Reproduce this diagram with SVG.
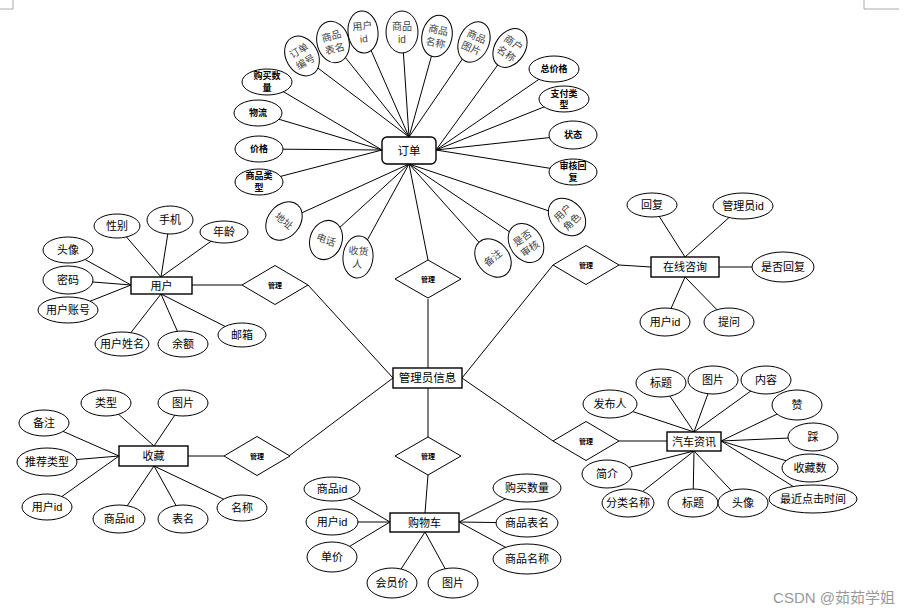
<svg xmlns="http://www.w3.org/2000/svg" width="907" height="612" viewBox="0 0 907 612">
<style>
text{font-family:"Liberation Sans","Noto Sans CJK SC",sans-serif;text-anchor:middle;dominant-baseline:central;fill:#000}
.e{fill:#fff;stroke:#000;stroke-width:1}
.ent{fill:#fff;stroke:#000;stroke-width:1.4}
.d{fill:#fff;stroke:#000;stroke-width:1}
.c line{stroke:#000;stroke-width:1}
.t{font-size:11px}
.sm{font-size:9px;font-weight:bold}
.rt{font-size:10px;fill:#444}
.dt{font-size:7px;font-weight:bold}
.et{font-size:11.5px}
.pg{stroke:#aaa;stroke-width:1;fill:none}
</style>
<rect width="907" height="612" fill="#fff"/>
<path class="pg" d="M13,0V9H0M864,0V9H899"/>
<g id="connectors" class="c">
<!-- 订单 -->
<line x1="302" y1="56" x2="409" y2="137"/>
<line x1="333" y1="42" x2="409" y2="137"/>
<line x1="363" y1="32" x2="409" y2="137"/>
<line x1="402" y1="32" x2="409" y2="137"/>
<line x1="437" y1="36" x2="409" y2="137"/>
<line x1="474" y1="42" x2="409" y2="137"/>
<line x1="510" y1="48" x2="436" y2="150"/>
<line x1="554" y1="69" x2="436" y2="150"/>
<line x1="564" y1="99" x2="436" y2="150"/>
<line x1="573" y1="135" x2="436" y2="150"/>
<line x1="573" y1="172" x2="436" y2="150"/>
<line x1="267" y1="82" x2="382" y2="150"/>
<line x1="258" y1="113" x2="382" y2="150"/>
<line x1="259" y1="149" x2="382" y2="150"/>
<line x1="259" y1="182" x2="382" y2="150"/>
<line x1="284" y1="221" x2="409" y2="164"/>
<line x1="326" y1="240" x2="409" y2="164"/>
<line x1="358" y1="257" x2="409" y2="164"/>
<line x1="493" y1="258" x2="409" y2="164"/>
<line x1="526" y1="243" x2="409" y2="164"/>
<line x1="567" y1="217" x2="409" y2="164"/>
<line x1="409" y1="164" x2="428" y2="260"/>
<line x1="428" y1="299" x2="428" y2="368"/>
<!-- 用户 -->
<line x1="117" y1="226" x2="161" y2="277"/>
<line x1="170" y1="220" x2="161" y2="277"/>
<line x1="224" y1="232" x2="161" y2="277"/>
<line x1="68" y1="250" x2="131" y2="285"/>
<line x1="68" y1="280" x2="131" y2="285"/>
<line x1="68" y1="310" x2="131" y2="285"/>
<line x1="122" y1="344" x2="161" y2="294"/>
<line x1="183" y1="344" x2="161" y2="294"/>
<line x1="242" y1="335" x2="161" y2="294"/>
<line x1="192" y1="285" x2="242" y2="285"/>
<line x1="308" y1="285" x2="393" y2="378"/>
<!-- 在线咨询 -->
<line x1="462" y1="378" x2="553" y2="265"/>
<line x1="619" y1="265" x2="651" y2="267"/>
<line x1="652" y1="205" x2="685" y2="257"/>
<line x1="743" y1="205" x2="685" y2="257"/>
<line x1="783" y1="267" x2="719" y2="267"/>
<line x1="665" y1="322" x2="685" y2="277"/>
<line x1="729" y1="322" x2="685" y2="277"/>
<!-- 收藏 -->
<line x1="393" y1="378" x2="289" y2="456"/>
<line x1="224" y1="456" x2="188" y2="456"/>
<line x1="106" y1="403" x2="154" y2="446"/>
<line x1="183" y1="403" x2="154" y2="446"/>
<line x1="44" y1="423" x2="119" y2="456"/>
<line x1="47" y1="462" x2="119" y2="456"/>
<line x1="47" y1="507" x2="119" y2="456"/>
<line x1="119" y1="518" x2="154" y2="466"/>
<line x1="183" y1="518" x2="154" y2="466"/>
<line x1="242" y1="508" x2="154" y2="466"/>
<!-- 购物车 -->
<line x1="428" y1="388" x2="428" y2="437"/>
<line x1="428" y1="475" x2="425" y2="513"/>
<line x1="332" y1="488" x2="390" y2="522"/>
<line x1="332" y1="522" x2="390" y2="522"/>
<line x1="332" y1="557" x2="390" y2="522"/>
<line x1="392" y1="583" x2="425" y2="532"/>
<line x1="453" y1="583" x2="425" y2="532"/>
<line x1="527" y1="488" x2="459" y2="522"/>
<line x1="527" y1="523" x2="459" y2="522"/>
<line x1="527" y1="559" x2="459" y2="522"/>
<!-- 汽车资讯 -->
<line x1="462" y1="378" x2="553" y2="441"/>
<line x1="619" y1="441" x2="667" y2="441"/>
<line x1="610" y1="404" x2="694" y2="432"/>
<line x1="661" y1="383" x2="694" y2="432"/>
<line x1="713" y1="380" x2="694" y2="432"/>
<line x1="766" y1="380" x2="694" y2="432"/>
<line x1="796" y1="405" x2="721" y2="441"/>
<line x1="813" y1="437" x2="721" y2="441"/>
<line x1="810" y1="468" x2="721" y2="441"/>
<line x1="813" y1="499" x2="721" y2="441"/>
<line x1="607" y1="473" x2="694" y2="451"/>
<line x1="628" y1="503" x2="694" y2="451"/>
<line x1="693" y1="503" x2="694" y2="451"/>
<line x1="743" y1="503" x2="694" y2="451"/>
</g>

<!-- 订单 entity -->
<g id="order"><rect class="ent" x="382" y="137" width="54" height="27" rx="5"/><text class="et" x="409" y="151">订单</text></g>
<g id="order-no" transform="translate(302,56) rotate(-30)"><ellipse class="e" rx="16" ry="21"/><text class="rt" y="-6">订单</text><text class="rt" y="7">编号</text></g>
<g id="order-tablename" transform="translate(333,42) rotate(-15)"><ellipse class="e" rx="16" ry="21"/><text class="rt" y="-6">商品</text><text class="rt" y="7">表名</text></g>
<g id="order-userid" transform="translate(363,32) rotate(-6)"><ellipse class="e" rx="15" ry="21"/><text class="rt" y="-6">用户</text><text class="rt" y="7">id</text></g>
<g id="order-goodsid" transform="translate(402,32)"><ellipse class="e" rx="16" ry="21"/><text class="rt" y="-6">商品</text><text class="rt" y="7">id</text></g>
<g id="order-goodsname" transform="translate(437,36) rotate(12)"><ellipse class="e" rx="15" ry="21"/><text class="rt" y="-6">商品</text><text class="rt" y="7">名称</text></g>
<g id="order-goodspic" transform="translate(474,42) rotate(24)"><ellipse class="e" rx="15" ry="21"/><text class="rt" y="-6">商品</text><text class="rt" y="7">图片</text></g>
<g id="order-shopname" transform="translate(510,48) rotate(34)"><ellipse class="e" rx="15" ry="21"/><text class="rt" y="-6">商户</text><text class="rt" y="7">名称</text></g>
<g id="order-total"><ellipse class="e" cx="554" cy="69" rx="25" ry="13"/><text class="sm" x="554" y="69">总价格</text></g>
<g id="order-paytype"><ellipse class="e" cx="564" cy="99" rx="25" ry="13"/><text class="sm" x="564" y="94">支付类</text><text class="sm" x="564" y="105">型</text></g>
<g id="order-status"><ellipse class="e" cx="573" cy="135" rx="24" ry="14"/><text class="sm" x="573" y="135">状态</text></g>
<g id="order-reply"><ellipse class="e" cx="573" cy="172" rx="24" ry="13"/><text class="sm" x="573" y="166">审核回</text><text class="sm" x="573" y="178">复</text></g>
<g id="order-qty"><ellipse class="e" cx="267" cy="82" rx="25" ry="13"/><text class="sm" x="267" y="76">购买数</text><text class="sm" x="267" y="88">量</text></g>
<g id="order-logistics"><ellipse class="e" cx="258" cy="113" rx="24" ry="13"/><text class="sm" x="258" y="113">物流</text></g>
<g id="order-price"><ellipse class="e" cx="259" cy="149" rx="24" ry="13"/><text class="sm" x="259" y="149">价格</text></g>
<g id="order-goodstype"><ellipse class="e" cx="259" cy="182" rx="24" ry="13"/><text class="sm" x="259" y="176">商品类</text><text class="sm" x="259" y="188">型</text></g>
<g id="order-address" transform="translate(284,221) rotate(40)"><ellipse class="e" rx="16" ry="21"/><text class="rt">地址</text></g>
<g id="order-phone" transform="translate(326,240) rotate(20)"><ellipse class="e" rx="16" ry="20"/><text class="rt">电话</text></g>
<g id="order-receiver" transform="translate(358,257) rotate(5)"><ellipse class="e" rx="15" ry="21"/><text class="rt" y="-6">收货</text><text class="rt" y="7">人</text></g>
<g id="order-remark" transform="translate(493,258) rotate(-40)"><ellipse class="e" rx="16" ry="21"/><text class="rt">备注</text></g>
<g id="order-audited" transform="translate(526,243) rotate(-35)"><ellipse class="e" rx="16" ry="21"/><text class="rt" y="-6">是否</text><text class="rt" y="7">审核</text></g>
<g id="order-role" transform="translate(567,217) rotate(-45)"><ellipse class="e" rx="16" ry="21"/><text class="rt" y="-6">用户</text><text class="rt" y="7">角色</text></g>

<!-- 管理员信息 -->
<g id="admin"><rect class="ent" x="393" y="368" width="69" height="20"/><text class="et" x="427.5" y="378">管理员信息</text></g>
<g id="rel-order"><polygon class="d" points="395,279 428,260 461,279 428,298"/><text class="dt" x="428" y="279">管理</text></g>
<g id="rel-user"><polygon class="d" points="242,285 275,265.5 308,285 275,304.5"/><text class="dt" x="275" y="285">管理</text></g>
<g id="rel-consult"><polygon class="d" points="553,265 586,245.5 619,265 586,284.5"/><text class="dt" x="586" y="265">管理</text></g>
<g id="rel-fav"><polygon class="d" points="224,456 257,436.5 290,456 257,475.5"/><text class="dt" x="257" y="456">管理</text></g>
<g id="rel-cart"><polygon class="d" points="395,456 428,437 461,456 428,475"/><text class="dt" x="428" y="456">管理</text></g>
<g id="rel-news"><polygon class="d" points="553,441 586,421.5 619,441 586,460.5"/><text class="dt" x="586" y="441">管理</text></g>

<!-- 用户 -->
<g id="user"><rect class="ent" x="131" y="277" width="61" height="17"/><text class="t" x="161.5" y="285.5">用户</text></g>
<g id="user-gender"><ellipse class="e" cx="117" cy="226" rx="23" ry="12"/><text class="t" x="117" y="226">性别</text></g>
<g id="user-phone"><ellipse class="e" cx="170" cy="220" rx="23" ry="14"/><text class="t" x="170" y="220">手机</text></g>
<g id="user-age"><ellipse class="e" cx="224" cy="232" rx="24" ry="11"/><text class="t" x="224" y="232">年龄</text></g>
<g id="user-avatar"><ellipse class="e" cx="68" cy="250" rx="25" ry="13"/><text class="t" x="68" y="250">头像</text></g>
<g id="user-pwd"><ellipse class="e" cx="68" cy="280" rx="25" ry="14"/><text class="t" x="68" y="280">密码</text></g>
<g id="user-account"><ellipse class="e" cx="68" cy="310" rx="30" ry="13"/><text class="t" x="68" y="310">用户账号</text></g>
<g id="user-name"><ellipse class="e" cx="122" cy="344" rx="27" ry="12"/><text class="t" x="122" y="344">用户姓名</text></g>
<g id="user-balance"><ellipse class="e" cx="183" cy="344" rx="25" ry="13"/><text class="t" x="183" y="344">余额</text></g>
<g id="user-email"><ellipse class="e" cx="242" cy="335" rx="24" ry="12"/><text class="t" x="242" y="335">邮箱</text></g>

<!-- 在线咨询 -->
<g id="consult"><rect class="ent" x="651" y="257" width="68" height="20"/><text class="t" x="685" y="267">在线咨询</text></g>
<g id="consult-reply"><ellipse class="e" cx="652" cy="205" rx="25" ry="12"/><text class="t" x="652" y="205">回复</text></g>
<g id="consult-adminid"><ellipse class="e" cx="743" cy="206" rx="30" ry="13"/><text class="t" x="743" y="206">管理员id</text></g>
<g id="consult-replied"><ellipse class="e" cx="783" cy="267" rx="31" ry="15"/><text class="t" x="783" y="267">是否回复</text></g>
<g id="consult-userid"><ellipse class="e" cx="665" cy="322" rx="25" ry="14"/><text class="t" x="665" y="322">用户id</text></g>
<g id="consult-question"><ellipse class="e" cx="729" cy="322" rx="25" ry="14"/><text class="t" x="729" y="322">提问</text></g>

<!-- 收藏 -->
<g id="fav"><rect class="ent" x="119" y="446" width="69" height="20"/><text class="t" x="153.5" y="456">收藏</text></g>
<g id="fav-type"><ellipse class="e" cx="106" cy="403" rx="25" ry="13"/><text class="t" x="106" y="403">类型</text></g>
<g id="fav-pic"><ellipse class="e" cx="183" cy="403" rx="25" ry="13"/><text class="t" x="183" y="403">图片</text></g>
<g id="fav-remark"><ellipse class="e" cx="44" cy="423" rx="25" ry="13"/><text class="t" x="44" y="423">备注</text></g>
<g id="fav-rectype"><ellipse class="e" cx="47" cy="462" rx="30" ry="14"/><text class="t" x="47" y="462">推荐类型</text></g>
<g id="fav-userid"><ellipse class="e" cx="47" cy="507" rx="25" ry="13"/><text class="t" x="47" y="507">用户id</text></g>
<g id="fav-goodsid"><ellipse class="e" cx="119" cy="519" rx="26" ry="14"/><text class="t" x="119" y="519">商品id</text></g>
<g id="fav-table"><ellipse class="e" cx="183" cy="519" rx="25" ry="14"/><text class="t" x="183" y="519">表名</text></g>
<g id="fav-name"><ellipse class="e" cx="242" cy="508" rx="25" ry="13"/><text class="t" x="242" y="508">名称</text></g>

<!-- 购物车 -->
<g id="cart"><rect class="ent" x="390" y="513" width="69" height="19"/><text class="t" x="424.5" y="522.5">购物车</text></g>
<g id="cart-goodsid"><ellipse class="e" cx="332" cy="489" rx="28" ry="12"/><text class="t" x="332" y="489">商品id</text></g>
<g id="cart-userid"><ellipse class="e" cx="332" cy="522" rx="26" ry="13"/><text class="t" x="332" y="522">用户id</text></g>
<g id="cart-price"><ellipse class="e" cx="332" cy="557" rx="25" ry="15"/><text class="t" x="332" y="557">单价</text></g>
<g id="cart-vip"><ellipse class="e" cx="392" cy="583" rx="25" ry="15"/><text class="t" x="392" y="583">会员价</text></g>
<g id="cart-pic"><ellipse class="e" cx="453" cy="583" rx="25" ry="15"/><text class="t" x="453" y="583">图片</text></g>
<g id="cart-qty"><ellipse class="e" cx="527" cy="488" rx="34" ry="14"/><text class="t" x="527" y="488">购买数量</text></g>
<g id="cart-table"><ellipse class="e" cx="527" cy="523" rx="31" ry="14"/><text class="t" x="527" y="523">商品表名</text></g>
<g id="cart-name"><ellipse class="e" cx="527" cy="559" rx="34" ry="15"/><text class="t" x="527" y="559">商品名称</text></g>

<!-- 汽车资讯 -->
<g id="news"><rect class="ent" x="667" y="432" width="54" height="19" stroke-width="2"/><text class="t" x="694" y="441.5">汽车资讯</text></g>
<g id="news-author"><ellipse class="e" cx="610" cy="404" rx="27" ry="14"/><text class="t" x="610" y="404">发布人</text></g>
<g id="news-title1"><ellipse class="e" cx="661" cy="383" rx="25" ry="14"/><text class="t" x="661" y="383">标题</text></g>
<g id="news-pic"><ellipse class="e" cx="713" cy="380" rx="25" ry="14"/><text class="t" x="713" y="380">图片</text></g>
<g id="news-content"><ellipse class="e" cx="766" cy="380" rx="25" ry="14"/><text class="t" x="766" y="380">内容</text></g>
<g id="news-like"><ellipse class="e" cx="797" cy="405" rx="25" ry="15"/><text class="t" x="797" y="405">赞</text></g>
<g id="news-dislike"><ellipse class="e" cx="813" cy="437" rx="25" ry="14"/><text class="t" x="813" y="437">踩</text></g>
<g id="news-favs"><ellipse class="e" cx="810" cy="468" rx="28" ry="14"/><text class="t" x="810" y="468">收藏数</text></g>
<g id="news-clicktime"><ellipse class="e" cx="813" cy="499" rx="44" ry="14"/><text class="t" x="813" y="499">最近点击时间</text></g>
<g id="news-intro"><ellipse class="e" cx="607" cy="474" rx="25" ry="14"/><text class="t" x="607" y="474">简介</text></g>
<g id="news-category"><ellipse class="e" cx="628" cy="503" rx="26" ry="14"/><text class="t" x="628" y="503">分类名称</text></g>
<g id="news-title2"><ellipse class="e" cx="693" cy="503" rx="25" ry="14"/><text class="t" x="693" y="503">标题</text></g>
<g id="news-avatar"><ellipse class="e" cx="743" cy="503" rx="25" ry="14"/><text class="t" x="743" y="503">头像</text></g>

<text x="834" y="597" style="font-size:15px;fill:#999">CSDN @茹茹学姐</text>
</svg>
